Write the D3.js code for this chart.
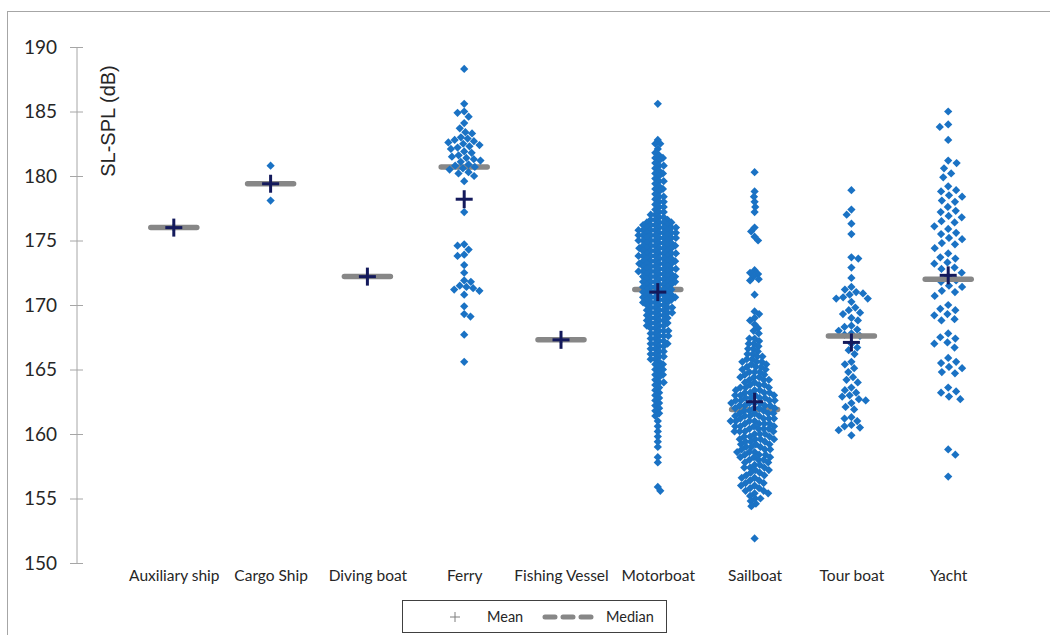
<!DOCTYPE html>
<html><head><meta charset="utf-8">
<script src="https://cdn.jsdelivr.net/npm/d3@7/dist/d3.min.js"></script>
<style>body{margin:0;background:#fff}svg{display:block}</style>
</head><body>
<svg id="chart" width="1050" height="635"></svg>
<script>
const categories = ["Auxiliary ship","Cargo Ship","Diving boat","Ferry","Fishing Vessel","Motorboat","Sailboat","Tour boat","Yacht"];
const yTicks = [150,155,160,165,170,175,180,185,190];
const means   = [176.0,179.4,172.2,178.2,167.3,171.0,162.5,167.1,172.3];
const medians = [176.0,179.4,172.2,180.7,167.3,171.2,161.9,167.6,172.0];

const auxiliaryShip = [176.0];
const cargoShip = [180.8,178.1];
const divingBoat = [172.2];
const ferry = [188.3,185.6,185.0,184.9,184.6,184.1,183.7,183.4,183.3,183.0,182.9,182.8,182.7,182.6,182.5,182.4,182.3,182.2,182.1,181.9,181.8,181.6,181.5,181.4,181.3,181.2,181.1,180.9,180.8,180.7,180.6,180.5,180.3,180.2,180.0,179.6,177.2,
 174.7,174.6,174.3,173.9,173.8,173.1,172.5,171.9,171.8,171.5,171.4,171.3,171.2,171.1,170.8,169.9,169.3,169.1,167.7,165.6];
const fishingVessel = [167.3];
// [value, number of vessels] for the two densest categories
const motorboatCounts = [[185.6,1],[182.8,1],[182.5,2],[182.1,1],
 [181.8,1],[181.6,1],[181.4,2],[181.2,1],[181.0,1],[180.8,2],[180.6,1],[180.4,1],[180.2,2],[180.0,1],[179.8,1],[179.6,2],[179.4,1],[179.2,1],[179.0,2],[178.8,1],[178.6,1],[178.4,2],[178.2,1],[178.0,2],[177.8,1],[177.6,2],[177.4,1],[177.2,2],[177.0,2],[176.8,2],
 [176.6,3],[176.4,4],[176.2,4],[176.0,5],[175.8,5],[175.6,5],[175.4,5],
 [175.2,5],[175.0,5],[174.8,4],[174.6,5],[174.4,5],[174.2,4],[174.0,5],[173.8,5],[173.6,4],[173.4,5],[173.2,5],[173.0,4],[172.8,5],[172.6,5],[172.4,4],[172.2,5],[172.0,4],[171.8,5],[171.6,4],[171.4,4],[171.2,4],[171.0,4],[170.8,4],[170.6,5],
 [170.4,4],[170.2,4],[170.0,3],[169.8,4],[169.6,3],[169.4,4],[169.2,3],[169.0,3],[168.8,3],[168.6,3],
 [168.4,3],[168.2,2],[168.0,3],[167.8,2],[167.6,3],[167.4,2],[167.2,2],[167.0,3],[166.8,2],[166.6,2],[166.4,2],[166.2,2],[166.0,2],
 [165.8,2],[165.6,1],[165.4,2],[165.2,1],[165.0,2],[164.8,1],[164.6,2],[164.4,1],[164.2,1],[164.0,2],[163.8,1],[163.6,1],[163.4,1],
 [163.2,1],[163.0,1],[162.8,1],[162.6,1],[162.4,1],[162.2,1],[162.0,1],[161.8,1],[161.6,1],[161.4,1],
 [161.0,1],[160.6,1],[160.2,1],[159.8,1],[159.4,1],[159.0,1],
 [158.2,1],[157.8,1],[155.9,1],[155.6,1]];
const sailboatCounts = [[180.3,1],[178.8,1],[178.4,1],[178.0,1],[177.6,1],[177.2,1],
 [176.0,1],[175.7,1],[175.3,1],[175.0,1],
 [172.7,1],[172.5,1],[172.4,1],[172.2,1],[172.0,1],[171.9,1],[170.8,1],
 [169.5,1],[169.3,1],[169.0,1],[168.8,1],[168.5,1],[168.2,1],[168.0,1],[167.8,1],
 [167.4,2],[167.2,1],[167.0,2],[166.8,1],[166.6,2],[166.4,1],[166.2,2],[166.0,2],[165.8,2],
 [165.6,3],[165.4,2],[165.2,3],[165.0,2],[164.8,3],[164.6,2],[164.4,3],[164.2,3],[164.0,2],[163.8,3],[163.6,3],[163.4,3],
 [163.2,4],[163.0,4],[162.8,4],[162.6,4],[162.4,4],[162.2,4],[162.0,4],[161.8,3],[161.6,4],[161.4,4],[161.2,4],[161.0,4],[160.8,4],[160.6,4],[160.4,4],[160.2,4],
 [160.0,3],[159.8,3],[159.6,4],[159.4,3],[159.2,3],[159.0,3],[158.8,3],[158.6,3],[158.4,3],[158.2,3],[158.0,3],
 [157.8,2],[157.6,2],[157.4,3],[157.2,2],[157.0,2],[156.8,2],[156.6,2],[156.4,2],[156.2,2],[156.0,2],[155.8,2],[155.6,2],
 [155.4,2],[155.2,1],[155.0,2],[154.8,1],[154.6,1],[154.4,1],
 [151.9,1]];
const tourBoat = [178.9,177.4,177.0,176.3,175.5,173.7,173.6,172.9,172.1,
 171.4,171.2,171.0,170.9,170.8,170.6,170.5,170.5,170.25,
 169.8,169.6,169.4,169.3,169.0,168.8,
 168.4,168.3,168.1,168.0,
 167.8,167.7,167.6,
 167.0,166.7,166.5,166.2,
 165.6,165.4,165.1,164.8,
 164.4,164.2,164.0,163.6,163.4,
 163.2,163.0,162.9,162.7,162.6,162.4,162.1,161.9,
 161.3,161.2,161.0,160.7,160.6,160.5,160.3,
 159.9];
const yacht = [185.0,184.0,183.8,182.8,
 181.2,181.0,180.6,180.2,179.9,
 179.2,178.9,178.8,178.5,178.4,178.1,178.0,
 177.6,177.3,177.2,176.9,176.8,176.5,176.4,176.1,
 175.9,175.6,175.5,175.2,175.1,174.8,174.7,174.4,
 174.0,173.7,173.6,173.3,173.2,172.9,172.8,172.5,
 172.2,171.9,171.8,171.5,171.4,171.1,171.0,170.7,
 170.0,169.7,169.6,169.3,169.2,168.9,168.8,
 167.8,167.5,167.4,167.1,167.0,166.7,
 165.9,165.6,165.5,165.2,165.1,164.8,164.7,
 163.6,163.3,163.2,162.9,162.7,
 158.8,158.4,156.7];

function expand(pairs){ const out=[]; pairs.forEach(([v,n])=>{for(let k=0;k<n;k++) out.push(v);}); return out; }
const motorboat = expand(motorboatCounts);
const sailboat = expand(sailboatCounts);

const groups = [auxiliaryShip,cargoShip,divingBoat,ferry,fishingVessel,motorboat,sailboat,tourBoat,yacht];
// layout: spacing between marker centres in each swarm (px), and which swarms sit above the median bars
const swarmGap = [8,8,8,6.8,8,4.6,5.2,7,8.8];
const aboveMedian = [false,false,false,true,false,true,true,false,false];

const svg = d3.select("#chart");
const W = 1050, H = 635;
svg.append("rect").attr("width",W).attr("height",H).attr("fill","#fff");
svg.append("rect").attr("x",7.5).attr("y",11.5).attr("width",1100).attr("height",700)
  .attr("fill","none").attr("stroke","#a6a6a6").attr("stroke-width",1);

const y = d3.scaleLinear().domain([150,190]).range([563,47]);
const x = d3.scalePoint().domain(categories).range([77,1045]).padding(1);

// Y axis
const yAxis = d3.axisLeft(y).tickValues(yTicks).tickSize(0).tickPadding(20);
const gy = svg.append("g").attr("transform","translate(77,0)").call(yAxis);
gy.select(".domain").attr("stroke","#a6a6a6").attr("d","M0,"+y(150)+"V"+y(190));
gy.selectAll(".tick line").remove();
gy.selectAll(".tick").append("line").attr("x1",-7).attr("x2",6).attr("stroke","#a6a6a6");
gy.selectAll(".tick text").attr("font-family","Lato, 'Open Sans', sans-serif").attr("font-size",19).attr("fill","#262626");

svg.append("text").attr("transform","translate(115,121) rotate(-90)")
  .attr("text-anchor","middle").attr("font-family","'Liberation Sans', Arial, sans-serif")
  .attr("font-size",20).attr("fill","#262626").text("SL-SPL (dB)");

// X category labels
const xAxis = d3.axisBottom(x).tickSize(0).tickPadding(0);
const gx = svg.append("g").attr("transform","translate(0,569)").call(xAxis);
gx.select(".domain").remove();
gx.selectAll(".tick text").attr("font-family","Lato, 'Open Sans', sans-serif").attr("font-size",15.5).attr("fill","#262626").attr("dy","0.8em");

// swarm layout
function swarm(vals, D){
  const pts = vals.map(v=>({v, y:y(v)})).sort((a,b)=>a.y-b.y);
  const placed = [];
  let flip = 1;
  for(const p of pts){
    const near = placed.filter(q=>Math.abs(q.y-p.y)<D);
    const cands = [0];
    for(const q of near){
      const dx = Math.sqrt(D*D-(q.y-p.y)**2);
      cands.push(q.x+dx, q.x-dx);
    }
    cands.sort((a,b)=>{const d=Math.abs(a)-Math.abs(b); if(Math.abs(d)>1e-6) return d; return flip*(a-b);});
    let chosen = 0;
    for(const c of cands){
      if(near.every(q=>(q.x-c)**2+(q.y-p.y)**2 >= D*D-1e-3)){chosen=c;break;}
    }
    if(Math.abs(chosen)>1e-6) flip=-flip;
    p.x = chosen; placed.push(p);
  }
  return placed;
}

const diamond = d3.symbol().type(d3.symbolSquare).size(34)();
const layerBelow = svg.append("g");
const medG = svg.append("g");
const layerAbove = svg.append("g");
const meanG = svg.append("g");
groups.forEach((vals,i)=>{
  const cx = x(categories[i]);
  const pts = swarm(vals, swarmGap[i]);
  (aboveMedian[i] ? layerAbove : layerBelow).selectAll(null).data(pts).enter().append("path")
    .attr("d",diamond)
    .attr("transform",d=>`translate(${cx+d.x},${d.y}) rotate(45)`)
    .attr("fill","#1a72c4");
});
// medians
medG.selectAll("line").data(medians).enter().append("line")
  .attr("x1",(d,i)=>x(categories[i])-23).attr("x2",(d,i)=>x(categories[i])+23)
  .attr("y1",d=>y(d)).attr("y2",d=>y(d))
  .attr("stroke","#878787").attr("stroke-width",5.5).attr("stroke-linecap","round");
// means
const plus = meanG.selectAll("g").data(means).enter().append("g")
  .attr("transform",(d,i)=>`translate(${x(categories[i])},${y(d)})`);
plus.append("line").attr("x1",-8.5).attr("x2",8.5).attr("stroke","#141a5c").attr("stroke-width",3);
plus.append("line").attr("y1",-9).attr("y2",9).attr("stroke","#141a5c").attr("stroke-width",3);

// legend
const lg = svg.append("g");
lg.append("rect").attr("x",402.5).attr("y",600.5).attr("width",264).attr("height",32)
  .attr("fill","#fff").attr("stroke","#404040").attr("stroke-width",1);
lg.append("line").attr("x1",450).attr("x2",460).attr("y1",617).attr("y2",617).attr("stroke","#7f7f7f").attr("stroke-width",1);
lg.append("line").attr("x1",455).attr("x2",455).attr("y1",612).attr("y2",622).attr("stroke","#7f7f7f").attr("stroke-width",1);
lg.append("text").attr("x",487).attr("y",622).attr("font-family","Lato, 'Open Sans', sans-serif").attr("font-size",14.5).attr("fill","#262626").text("Mean");
lg.append("line").attr("x1",545).attr("x2",599).attr("y1",617).attr("y2",617)
  .attr("stroke","#878787").attr("stroke-width",5).attr("stroke-linecap","round").attr("stroke-dasharray","10 8");
lg.append("text").attr("x",606).attr("y",622).attr("font-family","Lato, 'Open Sans', sans-serif").attr("font-size",14.5).attr("fill","#262626").text("Median");
</script>
</body></html>
